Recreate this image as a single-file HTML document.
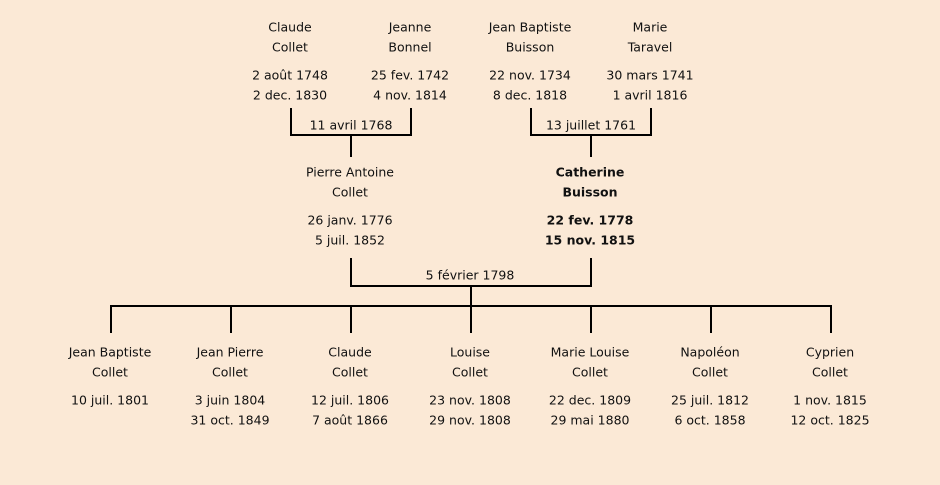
<!DOCTYPE html>
<html><head><meta charset="utf-8"><style>
html,body{margin:0;padding:0;background:#fbe9d6;}
svg{display:block;}
text{font-family:"DejaVu Sans","Liberation Sans",sans-serif;font-size:12.5px;fill:#111;text-anchor:middle;dominant-baseline:central;}
.b{font-weight:bold;}
</style></head><body>
<svg width="940" height="485" viewBox="0 0 940 485">
<rect width="940" height="485" fill="#fbe9d6"/>
<g stroke="#000" stroke-width="2" fill="none">
<path d="M291 108V135H411V108M351 135V157"/>
<path d="M531 108V135H651V108M591 135V157"/>
<path d="M351 258V286H591V258M471 286V306"/>
<path d="M110 306H832"/>
<path d="M111 306V333M231 306V333M351 306V333M471 306V333M591 306V333M711 306V333M831 306V333"/>
</g>
<text x="290" y="27">Claude</text><text x="290" y="47">Collet</text>
<text x="290" y="75">2 août 1748</text><text x="290" y="95">2 dec. 1830</text>
<text x="410" y="27">Jeanne</text><text x="410" y="47">Bonnel</text>
<text x="410" y="75">25 fev. 1742</text><text x="410" y="95">4 nov. 1814</text>
<text x="530" y="27">Jean Baptiste</text><text x="530" y="47">Buisson</text>
<text x="530" y="75">22 nov. 1734</text><text x="530" y="95">8 dec. 1818</text>
<text x="650" y="27">Marie</text><text x="650" y="47">Taravel</text>
<text x="650" y="75">30 mars 1741</text><text x="650" y="95">1 avril 1816</text>
<text x="351" y="125">11 avril 1768</text>
<text x="591" y="125">13 juillet 1761</text>
<text x="350" y="172">Pierre Antoine</text><text x="350" y="192">Collet</text>
<text x="350" y="220">26 janv. 1776</text><text x="350" y="240">5 juil. 1852</text>
<text class="b" x="590" y="172">Catherine</text><text class="b" x="590" y="192">Buisson</text>
<text class="b" x="590" y="220">22 fev. 1778</text><text class="b" x="590" y="240">15 nov. 1815</text>
<text x="470" y="275">5 février 1798</text>
<text x="110" y="352">Jean Baptiste</text><text x="110" y="372">Collet</text><text x="110" y="400">10 juil. 1801</text>
<text x="230" y="352">Jean Pierre</text><text x="230" y="372">Collet</text><text x="230" y="400">3 juin 1804</text><text x="230" y="420">31 oct. 1849</text>
<text x="350" y="352">Claude</text><text x="350" y="372">Collet</text><text x="350" y="400">12 juil. 1806</text><text x="350" y="420">7 août 1866</text>
<text x="470" y="352">Louise</text><text x="470" y="372">Collet</text><text x="470" y="400">23 nov. 1808</text><text x="470" y="420">29 nov. 1808</text>
<text x="590" y="352">Marie Louise</text><text x="590" y="372">Collet</text><text x="590" y="400">22 dec. 1809</text><text x="590" y="420">29 mai 1880</text>
<text x="710" y="352">Napoléon</text><text x="710" y="372">Collet</text><text x="710" y="400">25 juil. 1812</text><text x="710" y="420">6 oct. 1858</text>
<text x="830" y="352">Cyprien</text><text x="830" y="372">Collet</text><text x="830" y="400">1 nov. 1815</text><text x="830" y="420">12 oct. 1825</text>
</svg>
</body></html>
